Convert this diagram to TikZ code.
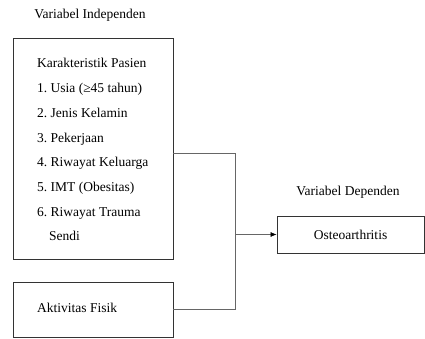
\documentclass[tikz,border=0pt]{standalone}
\usepackage{fontspec}
\setmainfont{Liberation Serif}
\usetikzlibrary{arrows.meta}
\frenchspacing
\begin{document}
\begin{tikzpicture}[x=1pt,y=1pt,
  box/.style={draw=black!80,line width=0.9pt,rectangle,inner sep=0pt},
  conn/.style={draw=black!60,line width=0.6pt},
  lbl/.style={font=\fontsize{13.5}{16}\selectfont\frenchspacing,inner sep=0pt}]
\useasboundingbox (0,0) rectangle (425,338);
\node[box,minimum width=160,minimum height=221] (big) at (93,189.5) {};
\foreach \t [count=\i from 0] in {Karakteristik Pasien,1. Usia (≥45 tahun),2. Jenis Kelamin,3. Pekerjaan,4. Riwayat Keluarga,5. IMT (Obesitas),6. Riwayat Trauma,\hspace*{12pt}Sendi}
  \node[lbl,anchor=base west] (line\i) at (37,270-24.7*\i) {\t};
\node[box,minimum width=160,minimum height=55] (akt) at (93,28.5) {};
\node[lbl,anchor=west] (akttxt) at (37,30) {Aktivitas Fisik};
\node[box,minimum width=147,minimum height=37] (oa) at (350.5,103.5) {};
\node[lbl] (oatxt) at (oa.center) {Osteoarthritis};
\node[lbl] (vi) at (90,323) {Variabel Independen};
\node[lbl] (vd) at (348,146) {Variabel Dependen};
\coordinate (j1) at (235,185);
\coordinate (j2) at (235,28.5);
\coordinate (j3) at (235,103.5);
\draw[conn] (big.east |- j1) -- (j1) -- (j2) -- (akt.east);
\draw[conn,-{Latex[length=6pt,width=5pt,black]}] (j3) -- (oa.west);
\end{tikzpicture}
\end{document}
